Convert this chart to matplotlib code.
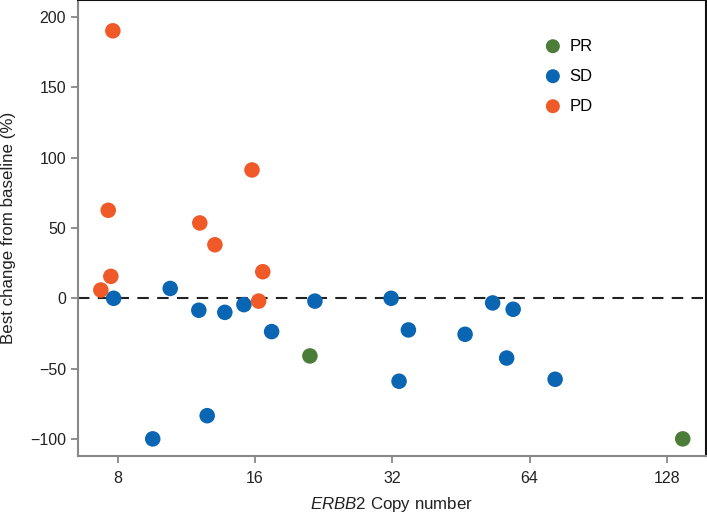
import matplotlib
matplotlib.use("Agg")
import matplotlib.pyplot as plt
from matplotlib.ticker import FixedLocator, NullLocator

plt.rcParams['font.family'] = ['Liberation Sans', 'DejaVu Sans']
plt.rcParams['mathtext.fontset'] = 'custom'
plt.rcParams['mathtext.it'] = 'Liberation Sans:italic'
plt.rcParams['mathtext.rm'] = 'Liberation Sans'

# ERBB2 copy number vs best change from baseline (%)
pr_x = [21.1, 138.7]
pr_y = [-41, -100]

sd_x = [7.83, 10.42, 12.04, 13.73, 15.12, 17.39, 21.64, 12.56, 9.54,
        31.8, 34.7, 33.1, 46.2, 53.1, 58.9, 57.0, 72.8]
sd_y = [0, 7, -8.5, -10, -4.5, -23.7, -2, -83.5, -100,
        0, -22.5, -59, -25.6, -3.3, -7.8, -42.5, -57.6]

pd_x = [7.80, 7.62, 12.10, 13.06, 15.75, 7.72, 7.34, 16.63, 16.29]
pd_y = [190.3, 62.6, 53.6, 38.1, 91.3, 15.6, 5.9, 18.9, -2]

groups = [('PR', pr_x, pr_y, '#4b7d38'),
          ('SD', sd_x, sd_y, '#0a65b2'),
          ('PD', pd_x, pd_y, '#ef5a28')]

xticks = [8, 16, 32, 64, 128]
yticks = [-100, -50, 0, 50, 100, 150, 200]

fig = plt.figure(figsize=(7.07, 5.14), dpi=100)
ax = fig.add_axes([0.1103, 0.1128, 0.8883, 0.8872])

for name, xs, ys, c in groups:
    ax.scatter(xs, ys, s=125, color=c, edgecolors='none', label=name, zorder=3)

ax.axhline(0, color='#222222', lw=1.5, ls=(0, (5.5, 4)), zorder=2)

ax.set_xscale('log', base=2)
ax.set_xlim(6.54, 156)
ax.set_ylim(-112.2, 212.2)
ax.xaxis.set_major_locator(FixedLocator(xticks))
ax.xaxis.set_minor_locator(NullLocator())
ax.set_xticklabels([str(t) for t in xticks])
ax.set_yticks(yticks)
ax.set_yticklabels([str(t).replace('-', '\u2212') for t in yticks])

for side in ['left', 'bottom']:
    ax.spines[side].set_color('#888888')
    ax.spines[side].set_linewidth(1.5)
for side in ['top', 'right']:
    ax.spines[side].set_color('#111111')
    ax.spines[side].set_linewidth(1.5)

ax.tick_params(axis='both', colors='#888888', labelcolor='#222222',
               labelsize=11.5, length=5, width=1.3, direction='out')
ax.tick_params(axis='x', pad=6)

ax.set_ylabel('Best change from baseline (%)', fontsize=12.2, color='#222222', labelpad=10)
ax.set_xlabel(r'$\mathit{ERBB2}$ Copy number', fontsize=12.2, color='#222222', labelpad=6)

ax.legend(loc='upper left', bbox_to_anchor=(0.719, 0.93), frameon=False,
          fontsize=12, handletextpad=0.0, labelspacing=0.9, markerscale=0.9,
          borderaxespad=0)

fig.savefig('out.png', dpi=100)
